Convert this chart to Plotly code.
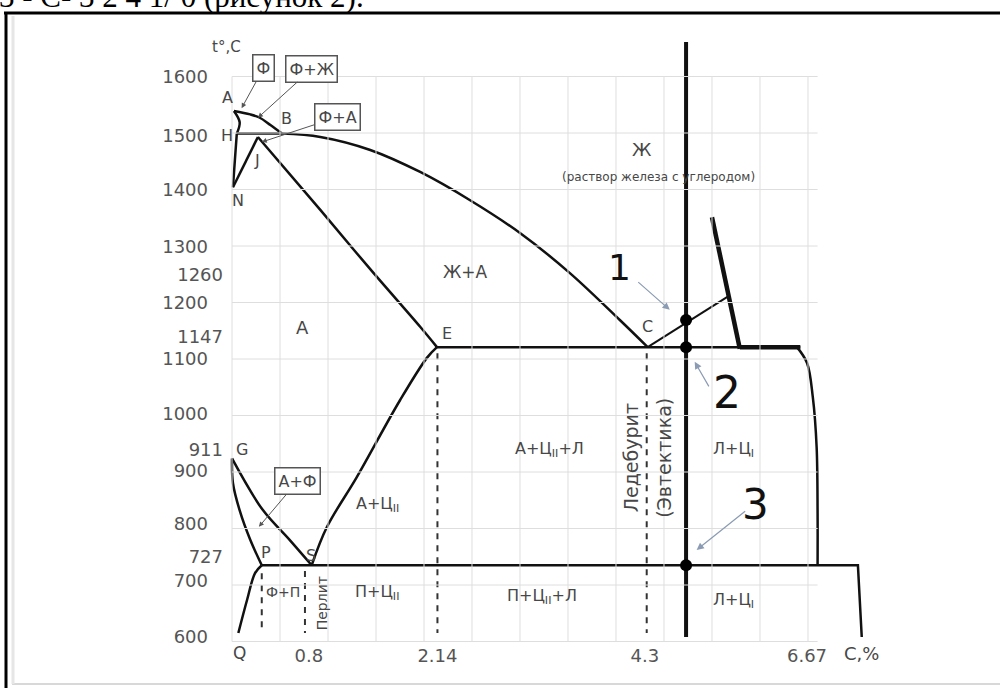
import plotly.graph_objects as go

# ---------------- data (carbon %, temperature °C as drawn) ----------------
liq_AB_c = [0.02, 0.19, 0.29, 0.40, 0.52]
liq_AB_t = [1539, 1533, 1527, 1514, 1499]
liq_BC_c = [0.52, 0.92, 1.44, 1.96, 2.48, 3.00, 3.52, 4.04, 4.33]
liq_BC_t = [1499, 1493, 1470, 1431, 1381, 1323, 1252, 1169, 1121]
sol_AH_c = [0.02, 0.08, 0.05]
sol_AH_t = [1539, 1519, 1499]
HJB_c = [0.05, 0.52]
HJB_t = [1499, 1499]
HN_c = [0.05, 0.03, 0.01]
HN_t = [1499, 1452, 1404]
JN_c = [0.27, 0.01]
JN_t = [1493, 1404]
JE_c = [0.27, 0.92, 1.44, 1.96, 2.135]
JE_t = [1493, 1364, 1259, 1157, 1121]
ECF_c = [2.135, 5.92]
ECF_t = [1121, 1121]
ECF_thick_c = [5.29, 5.92]
ECF_thick_t = [1121, 1121]
F_curve_c = [5.885, 5.99, 6.05, 6.09, 6.10, 6.10]
F_curve_t = [1121, 1093, 1033, 944, 827, 735]
PSK_c = [0.31, 6.52, 6.56]
PSK_t = [735, 735, 608]
QP_c = [0.066, 0.156, 0.24, 0.31]
QP_t = [615, 673, 721, 735]
GP_c = [0.0, 0.01, 0.08, 0.19, 0.31]
GP_t = [924, 880, 832, 780, 735]
GS_c = [0.0, 0.32, 0.60, 0.83]
GS_t = [924, 833, 780, 735]
SE_c = [0.83, 0.99, 1.30, 1.75, 2.03, 2.135]
SE_t = [735, 803, 891, 1027, 1102, 1121]
CD_c = [4.33, 5.16]
CD_t = [1121, 1210]
cem_c = [5.0, 5.29]
cem_t = [1351, 1118]
alloy_c = [4.73, 4.73]
alloy_t = [1661, 608]
points_c = [4.73, 4.73, 4.73]
points_t = [1169, 1121, 735]
dash_c = [0.31, 0.76, 2.14, 4.32]
dash_top = [721, 725, 1110, 1110]
dash_bot = [615, 615, 615, 615]
grid_c = [0.0, 0.5, 1.0, 1.5, 2.0, 2.5, 3.0, 3.5, 4.0, 4.5, 5.0, 5.5, 6.0]
grid_t = [600, 700, 800, 900, 1000, 1100, 1200, 1300, 1400, 1500, 1600]

x_tick_pos = [0.8, 2.14, 4.3, 5.99]
x_tick_text = ["0.8", "2.14", "4.3", "6.67"]
y_tick_pos = [1599, 1496, 1399, 1298, 1199, 1100, 1003, 902, 808, 707, 608]
y_tick_text = ["1600", "1500", "1400", "1300", "1200", "1100", "1000", "900", "800", "700", "600"]
y_tick2_pos = [1250, 1139, 939, 750]
y_tick2_text = ["1260", "1147", "911", "727"]

region_text = ["Ж", "(раствор железа с углеродом)", "Ж+А", "А", "А+Ц<sub>II</sub>+Л", "Л+Ц<sub>I</sub>",
               "А+Ц<sub>II</sub>", "П+Ц<sub>II</sub>", "П+Ц<sub>II</sub>+Л", "Л+Ц<sub>I</sub>", "Ф+П"]
region_c = [4.27, 4.44, 2.43, 0.73, 3.31, 5.22, 1.52, 1.51, 3.23, 5.22, 0.53]
region_t = [1470, 1423, 1254, 1155, 939, 939, 842, 686, 679, 673, 688]
region_size = [18, 12, 17, 18, 16, 16, 16, 16, 16, 16, 14]

point_text = ["A", "H", "B", "J", "N", "E", "C", "G", "P", "S"]
point_c = [-0.05, -0.05, 0.57, 0.26, 0.06, 2.24, 4.33, 0.10, 0.35, 0.82]
point_t = [1562, 1496, 1525, 1452, 1381, 1146, 1157, 939, 758, 753]

vert_text = ["Перлит", "Ледебурит", "(Эвтектика)"]
vert_c = [0.94, 4.15, 4.50]
vert_t = [668, 925, 925]
vert_size = [14, 19, 19]

box_text = ["Ф", "Ф+Ж", "Ф+А", "А+Ф"]
box_head_c = [0.10, 0.27, 0.31, 0.28]
box_head_t = [1544, 1527, 1484, 803]
box_off_x = [22, 54, 76, 39]
box_off_y = [-40, -49, -25, -46]

num_text = ["1", "2", "3"]
num_c = [4.04, 5.16, 5.45]
num_t = [1262, 1040, 842]
num_size = [36, 44, 42]
arrow_head_c = [4.56, 4.82, 4.84]
arrow_head_t = [1187, 1095, 762]
arrow_off_x = [-33, 15, 50]
arrow_off_y = [-29, 26, -40]

# ---------------- geometry of the page ----------------
W, H = 1000, 688
L, R, TOP, B = 226, 990, 30, 643
x_range = [-0.0625, 7.896]
y_range = [597.35, 1682.3]


def px_x(px):
    return (px - L) / (R - L)


def px_y(py):
    return (B - py) / (B - TOP)


LINE = "#111111"
TXT = "#474747"
FONT = "DejaVu Sans"

fig = go.Figure()

# grid
gx, gy = [], []
for c in grid_c:
    gx += [c, c, None]
    gy += [grid_t[0], grid_t[-1], None]
for t in grid_t:
    gx += [grid_c[0], 6.1, None]
    gy += [t, t, None]
fig.add_trace(go.Scatter(x=gx, y=gy, mode="lines", yaxis="y2",
                         line=dict(color="#dedede", width=1), hoverinfo="skip"))

# dashed verticals
dx, dy = [], []
for c, a, b in zip(dash_c, dash_top, dash_bot):
    dx += [c, c, None]
    dy += [a, b, None]
fig.add_trace(go.Scatter(x=dx, y=dy, mode="lines",
                         line=dict(color="#333333", width=2, dash="6px,6px"), hoverinfo="skip"))

curves = [
    (liq_AB_c, liq_AB_t, "spline", 2.5),
    (liq_BC_c, liq_BC_t, "spline", 2.5),
    (sol_AH_c, sol_AH_t, "spline", 2.5),
    (HJB_c, HJB_t, "linear", 2.5),
    (HN_c, HN_t, "spline", 2.5),
    (JN_c, JN_t, "linear", 2.5),
    (JE_c, JE_t, "spline", 2.5),
    (ECF_c, ECF_t, "linear", 2.5),
    (ECF_thick_c, ECF_thick_t, "linear", 4.5),
    (F_curve_c, F_curve_t, "spline", 2.5),
    (PSK_c, PSK_t, "linear", 2.5),
    (QP_c, QP_t, "spline", 2.5),
    (GP_c, GP_t, "spline", 2.5),
    (GS_c, GS_t, "spline", 2.5),
    (SE_c, SE_t, "spline", 2.5),
    (CD_c, CD_t, "linear", 2.0),
    (cem_c, cem_t, "linear", 4.5),
    (alloy_c, alloy_t, "linear", 4.0),
]
for cx, ty, shape, w in curves:
    fig.add_trace(go.Scatter(x=cx, y=ty, mode="lines", hoverinfo="skip",
                             line=dict(color=LINE, width=w, shape=shape)))

fig.add_trace(go.Scatter(x=points_c, y=points_t, mode="markers", hoverinfo="skip",
                         marker=dict(color="#000000", size=12)))

ann = []
for t, c, y, s in zip(region_text, region_c, region_t, region_size):
    ann.append(dict(x=c, y=y, text=t, showarrow=False, font=dict(family=FONT, size=s, color=TXT)))
for t, c, y in zip(point_text, point_c, point_t):
    ann.append(dict(x=c, y=y, text=t, showarrow=False, font=dict(family=FONT, size=16, color=TXT)))
for t, c, y, s in zip(vert_text, vert_c, vert_t, vert_size):
    ann.append(dict(x=c, y=y, text=t, showarrow=False, textangle=-90,
                    font=dict(family=FONT, size=s, color=TXT)))
for t, c, y, ox, oy in zip(box_text, box_head_c, box_head_t, box_off_x, box_off_y):
    ann.append(dict(x=c, y=y, text=t, showarrow=True, ax=ox, ay=oy, arrowhead=2, arrowsize=1,
                    arrowwidth=1, arrowcolor="#555555", bordercolor="#555555", borderwidth=1.5,
                    borderpad=3, bgcolor="white", font=dict(family=FONT, size=16, color=TXT)))
for c, y, ox, oy in zip(arrow_head_c, arrow_head_t, arrow_off_x, arrow_off_y):
    ann.append(dict(x=c, y=y, text="", showarrow=True, ax=ox, ay=oy, arrowhead=2, arrowsize=1.2,
                    arrowwidth=1.2, arrowcolor="#8a9bb3"))
for t, c, y, s in zip(num_text, num_c, num_t, num_size):
    ann.append(dict(x=c, y=y, text=t, showarrow=False,
                    font=dict(family="DejaVu Sans", size=s, color="#111111")))

# texts outside the plotting area
ann.append(dict(xref="paper", yref="paper", x=px_x(226), y=px_y(47), xanchor="center", yanchor="middle",
                text="t°,C", showarrow=False, font=dict(family=FONT, size=15, color=TXT)))
ann.append(dict(xref="x", yref="paper", x=0.08, y=px_y(653), xanchor="center", yanchor="middle",
                text="Q", showarrow=False, font=dict(family=FONT, size=17, color=TXT)))
ann.append(dict(xref="x", yref="paper", x=6.56, y=px_y(653), xanchor="center", yanchor="middle",
                text="C,%", showarrow=False, font=dict(family=FONT, size=18, color=TXT)))
ann.append(dict(xref="paper", yref="paper", x=px_x(-3), y=px_y(-3), xanchor="left", yanchor="middle",
                text="3 - C- 3 2 4 1/ 0 (рисунок 2).", showarrow=False,
                font=dict(family="Liberation Serif", size=31, color="#000000")))

shapes = [
    dict(type="line", xref="paper", yref="paper", x0=px_x(4), x1=px_x(1000), y0=px_y(13), y1=px_y(13),
         line=dict(color="#000000", width=3)),
    dict(type="line", xref="paper", yref="paper", x0=px_x(6), x1=px_x(6), y0=px_y(12), y1=px_y(690),
         line=dict(color="#000000", width=3)),
    dict(type="line", xref="paper", yref="paper", x0=px_x(12), x1=px_x(1000), y0=px_y(684), y1=px_y(684),
         line=dict(color="#d8d8d8", width=2)),
    dict(type="line", xref="paper", yref="paper", x0=px_x(13), x1=px_x(13), y0=px_y(16), y1=px_y(684),
         line=dict(color="#e6e6e6", width=3)),
]

tickfont = dict(family=FONT, size=18, color="#555555")
fig.update_layout(
    width=W, height=H,
    margin=dict(l=L, r=W - R, t=TOP, b=H - B),
    paper_bgcolor="white", plot_bgcolor="white",
    showlegend=False,
    annotations=ann, shapes=shapes,
    xaxis=dict(range=x_range, showgrid=False, zeroline=False, showline=False, ticks="",
               tickvals=x_tick_pos, ticktext=x_tick_text, tickfont=tickfont),
    yaxis=dict(range=y_range, showgrid=False, zeroline=False, showline=False, ticks="",
               tickvals=y_tick_pos, ticktext=y_tick_text, ticklabelstandoff=17, tickfont=tickfont),
    yaxis2=dict(range=y_range, overlaying="y", side="left", showgrid=False, zeroline=False,
                showline=False, ticks="", tickvals=y_tick2_pos, ticktext=y_tick2_text,
                ticklabelstandoff=2, tickfont=tickfont),
)

fig.write_html("out.html", config={"displayModeBar": False},
               post_script="document.body.style.margin='0px';document.body.style.padding='0px';"
                           "document.body.style.overflow='hidden';")
